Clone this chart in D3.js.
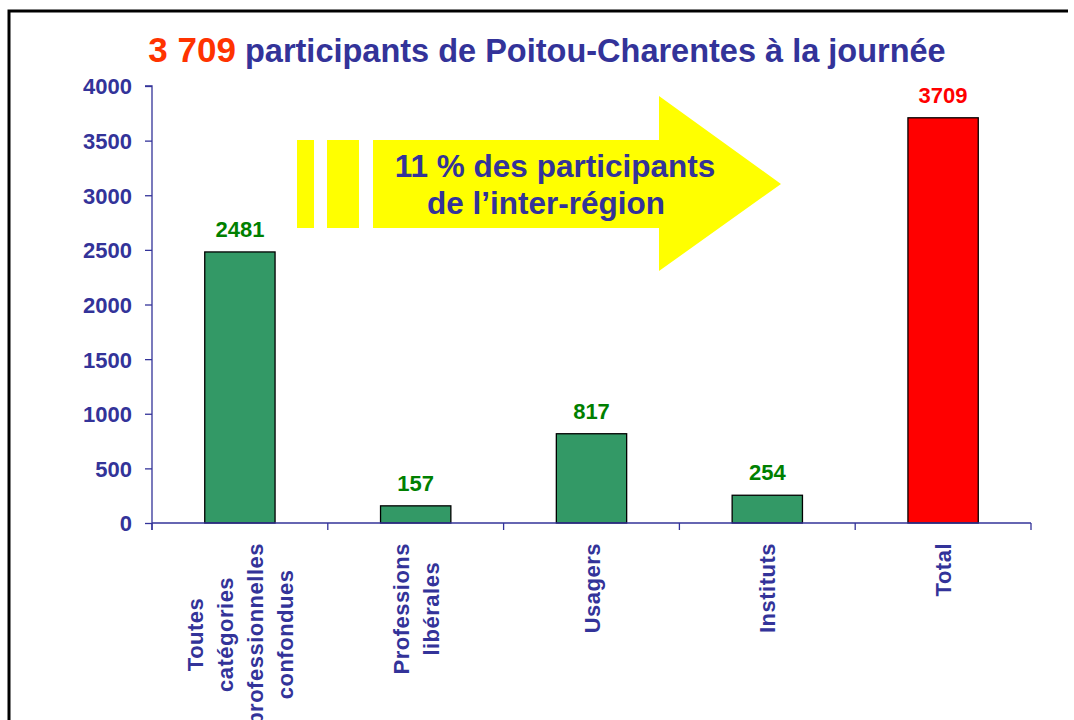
<!DOCTYPE html>
<html>
<head>
<meta charset="utf-8">
<script src="https://cdn.jsdelivr.net/npm/d3@7"></script>
<style>
  html, body { margin: 0; padding: 0; background: #fff; }
  svg { display: block; font-family: "Liberation Sans", Arial, sans-serif; }
</style>
</head>
<body>
<svg id="chart" width="1074" height="720"></svg>
<script>
// ---- data ----
const categories = [
  ["Toutes", "catégories", "professionnelles", "confondues"],
  ["Professions", "libérales"],
  ["Usagers"],
  ["Instituts"],
  ["Total"]
];
const values = [2481, 157, 817, 254, 3709];
const barColors = ["#339966", "#339966", "#339966", "#339966", "#FF0000"];
const labelColors = ["#008000", "#008000", "#008000", "#008000", "#FF0000"];
const yTicks = [0, 500, 1000, 1500, 2000, 2500, 3000, 3500, 4000];
const titleNumber = "3 709";
const titleRest = " participants de Poitou-Charentes à la journée";
const arrowLines = ["11 % des participants", "de l\u2019inter-région"];

// ---- layout ----
const svg = d3.select("#chart");
const blue = "#333399";
const plotLeft = 152, plotRight = 1031, plotTop = 86, plotBottom = 523;

// frame
svg.append("path")
  .attr("d", "M9,730 L9,11 L1068,11")
  .attr("fill", "none").attr("stroke", "#000").attr("stroke-width", 3);

// title
const title = svg.append("text")
  .attr("x", 547).attr("y", 62)
  .attr("text-anchor", "middle")
  .attr("font-weight", "bold");
title.append("tspan").attr("fill", "#FF3300").attr("font-size", 35).text(titleNumber);
title.append("tspan").attr("fill", blue).attr("font-size", 32.5).text(titleRest);

// scales
const x = d3.scaleBand()
  .domain(d3.range(values.length))
  .range([plotLeft, plotRight])
  .paddingInner(0.6)
  .paddingOuter(0.3);
const y = d3.scaleLinear().domain([0, 4000]).range([plotBottom, plotTop]);

// y axis
const yAxis = d3.axisLeft(y).tickValues(yTicks).tickSize(7).tickPadding(13).tickFormat(d3.format("d"));
const gy = svg.append("g").attr("transform", `translate(${plotLeft},0)`).call(yAxis);
gy.select(".domain").attr("stroke", blue).attr("stroke-width", 1.3).attr("d", `M-7,${plotTop}H0V${plotBottom + 7}`);
gy.selectAll(".tick line").attr("stroke", blue).attr("stroke-width", 1.3);
gy.selectAll(".tick text")
  .attr("fill", blue).attr("font-size", 22).attr("font-weight", "bold")
  .attr("font-family", "'Liberation Sans', Arial, sans-serif")
  .attr("dy", "0.36em");

// arrow (annotation) — yellow
const arrow = svg.append("g").attr("class", "arrow");
arrow.append("rect").attr("x", 297).attr("y", 140).attr("width", 17).attr("height", 88).attr("fill", "#FFFF00");
arrow.append("rect").attr("x", 327).attr("y", 140).attr("width", 32).attr("height", 88).attr("fill", "#FFFF00");
arrow.append("path")
  .attr("d", "M373,140 L659,140 L659,96 L781,184 L659,271 L659,228 L373,228 Z")
  .attr("fill", "#FFFF00");
arrow.append("text").attr("x", 555).attr("y", 177).attr("text-anchor", "middle")
  .attr("fill", blue).attr("font-size", 31.5).attr("font-weight", "bold").text(arrowLines[0]);
arrow.append("text").attr("x", 546).attr("y", 214).attr("text-anchor", "middle")
  .attr("fill", blue).attr("font-size", 31.5).attr("font-weight", "bold").text(arrowLines[1]);

// bars
svg.append("g").selectAll("rect").data(values).join("rect")
  .attr("x", (d, i) => x(i))
  .attr("y", d => y(d))
  .attr("width", x.bandwidth())
  .attr("height", d => y(0) - y(d))
  .attr("fill", (d, i) => barColors[i])
  .attr("stroke", "#000").attr("stroke-width", 1.3);

// value labels
svg.append("g").selectAll("text").data(values).join("text")
  .attr("x", (d, i) => x(i) + x.bandwidth() / 2)
  .attr("y", d => y(d) - 15)
  .attr("text-anchor", "middle")
  .attr("fill", (d, i) => labelColors[i])
  .attr("font-size", 22).attr("font-weight", "bold")
  .text(d => d);

// x axis
const xAxisG = svg.append("g");
xAxisG.append("line").attr("x1", plotLeft).attr("x2", plotRight).attr("y1", plotBottom).attr("y2", plotBottom)
  .attr("stroke", blue).attr("stroke-width", 1.3);
const edges = d3.range(values.length + 1).map(i => plotLeft + i * x.step());
xAxisG.selectAll("line.t").data(edges).join("line").attr("class", "t")
  .attr("x1", d => d).attr("x2", d => d).attr("y1", plotBottom).attr("y2", plotBottom + 7)
  .attr("stroke", blue).attr("stroke-width", 1.3);

// category labels (rotated, multi-line, centred lines, top-aligned block)
const catG = svg.append("g");
categories.forEach((lines, i) => {
  const cx = x(i) + x.bandwidth() / 2;
  const n = lines.length;
  const texts = lines.map((ln, j) => {
    const bx = cx + 8 + (j - (n - 1) / 2) * 30;
    return catG.append("text")
      .attr("fill", blue).attr("font-size", 22).attr("font-weight", "bold")
      .attr("letter-spacing", 0.5)
      .attr("text-anchor", "middle")
      .attr("data-bx", bx)
      .text(ln);
  });
  const maxLen = d3.max(texts, t => t.node().getComputedTextLength());
  const cy = 543 + maxLen / 2;
  texts.forEach(t => {
    const bx = +t.attr("data-bx");
    t.attr("transform", `translate(${bx},${cy}) rotate(-90)`);
  });
});
</script>
</body>
</html>
